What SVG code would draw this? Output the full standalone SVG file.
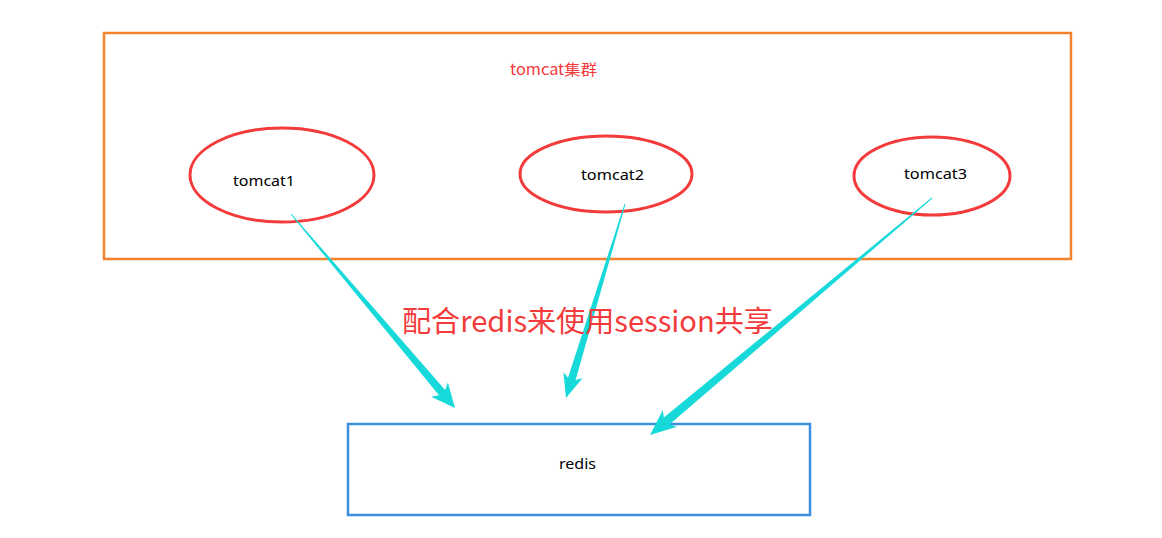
<svg xmlns="http://www.w3.org/2000/svg" width="1162" height="538" viewBox="0 0 1162 538">
<style>
.ell{fill:none;stroke:#F33B3B;stroke-width:3}
.lbl{font-family:"Noto Sans","Liberation Sans",sans-serif;font-size:15px;fill:#000}
.red{fill:#F33B3B;font-family:"Noto Sans CJK SC","Liberation Sans",sans-serif}
.arr{fill:#17D9D9}
</style>
<rect width="1162" height="538" fill="#fff"/>
<g id="cluster">
<rect x="104" y="33" width="967" height="226" fill="none" stroke="#F5822D" stroke-width="2.5"/>
<text class="red" x="510" y="75" font-size="15" textLength="87" lengthAdjust="spacingAndGlyphs">tomcat集群</text>
</g>
<g id="tomcat1">
<ellipse class="ell" cx="282" cy="175" rx="92" ry="47"/>
<text class="lbl" x="233" y="186" textLength="62" lengthAdjust="spacingAndGlyphs">tomcat1</text>
</g>
<g id="tomcat2">
<ellipse class="ell" cx="606" cy="174" rx="86" ry="38"/>
<text class="lbl" x="581" y="180" textLength="63" lengthAdjust="spacingAndGlyphs">tomcat2</text>
</g>
<g id="tomcat3">
<ellipse class="ell" cx="932" cy="176" rx="78" ry="39"/>
<text class="lbl" x="904" y="179" textLength="63" lengthAdjust="spacingAndGlyphs">tomcat3</text>
</g>
<g id="redis">
<rect x="348" y="424" width="462" height="91" fill="none" stroke="#3B8FDD" stroke-width="2.5"/>
<text class="lbl" x="559" y="469" textLength="37" lengthAdjust="spacingAndGlyphs">redis</text>
</g>
<g id="connectors">
<polygon class="arr" points="291.4,213.7 445.2,390.1 447.9,382.6 455,408 431.1,396.8 439.0,395.3 290.6,214.3"/>
<polygon class="arr" points="625.5,204.1 575.6,380.1 582.6,377.9 566,398 563.4,372.1 568.0,377.7 624.5,203.9"/>
<polygon class="arr" points="932.3,198.4 669.7,424.3 677.0,426.7 650,435 662.8,409.9 663.9,417.5 931.7,197.6"/>
</g>
<text class="red" x="402" y="332" font-size="29" textLength="371" lengthAdjust="spacingAndGlyphs">配合redis来使用session共享</text>
</svg>
